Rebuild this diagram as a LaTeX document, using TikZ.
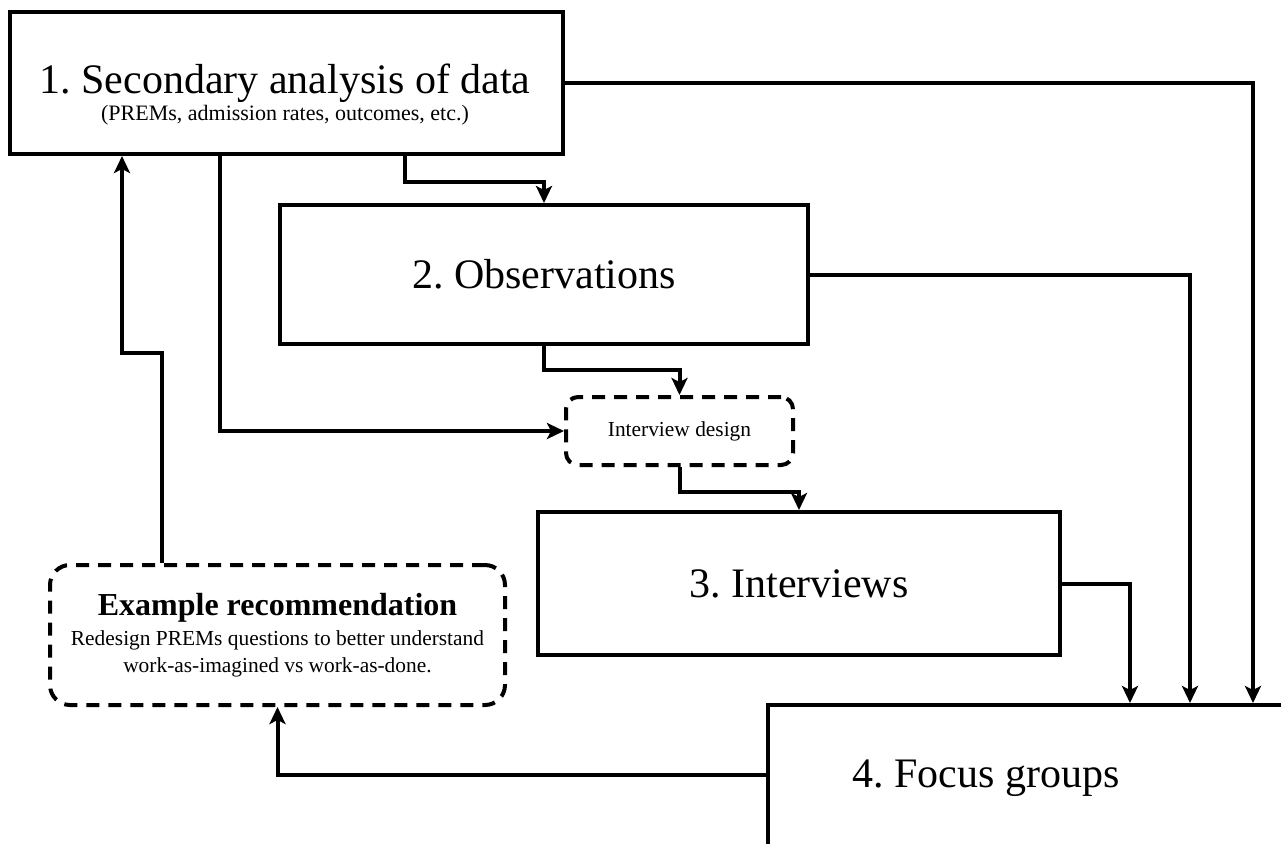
\documentclass[tikz,border=0pt]{standalone}
\usepackage{fontspec}
\setmainfont{Liberation Serif}
\frenchspacing
\usetikzlibrary{arrows.meta}

\begin{document}
\begin{tikzpicture}[x=0.5pt, y=-0.5pt,
    box/.style={draw, line width=2pt, inner sep=0pt},
    dashbox/.style={draw, line width=2pt, dash pattern=on 6.5pt off 4.5pt, inner sep=0pt, align=center},
    flow/.style={line width=2pt, -{Stealth[length=8.5pt, width=8pt, inset=2pt]}},
    title/.style={font=\fontsize{21}{24}\selectfont},
    small/.style={font=\fontsize{10.7}{13.5}\selectfont}]
  \clip (0,0) rectangle (1281,843);

  % stages
  \node[box, minimum width=276.5pt, minimum height=71pt] (sec) at (286.5,83) {};
  \node[title] (sectitle) at (285,83) {1. Secondary analysis of data};
  \node[font=\fontsize{11}{13}\selectfont] (secsub) at (285,115) {(PREMs, admission rates, outcomes, etc.)};
  \node[box, title, minimum width=264pt, minimum height=69.5pt] (obs) at (544,274.5) {2. Observations};
  \node[dashbox, small, rounded corners=6pt, minimum width=113.5pt, minimum height=34pt] (intd) at (679.5,431) {Interview design};
  \node[box, title, minimum width=261pt, minimum height=71.5pt] (intv) at (799,583.5) {3. Interviews};
  \node[box, anchor=north west, minimum width=400pt, minimum height=150pt] (focus) at (766,703) {};
  \node[title] (focustext) at (986,778) {4. Focus groups};
  \node[dashbox, small, rounded corners=10pt, minimum width=227.5pt, minimum height=70pt] (rec) at (277.5,635)
    {{\fontsize{16}{19}\selectfont\bfseries Example recommendation}\\[1.5pt]
     Redesign PREMs questions to better understand\\work-as-imagined vs work-as-done.};

  % everything feeds the focus groups
  \foreach \src/\dx in {intv/1130, obs/1190, sec/1253} {
    \coordinate (in-\src) at (\dx,703);
    \draw[flow] (\src.east) -| (in-\src);
  }

  \draw[flow] (sec.south -| 405,0) -- ++(0,26) -| (obs.north);
  \draw[flow] (sec.south -| 220,0) |- (intd.west);
  \draw[flow] (obs.south) -- ++(0,24) -| (intd.north);
  \draw[flow] (intd.south) -- ++(0,25) -| (intv.north);

  % loop back
  \draw[flow] (focus.west |- 0,775) -| (rec.south);
  \draw[flow] (rec.north -| 162,0) -- ++(0,-210) -| (sec.south -| 122,0);
\end{tikzpicture}
\end{document}
